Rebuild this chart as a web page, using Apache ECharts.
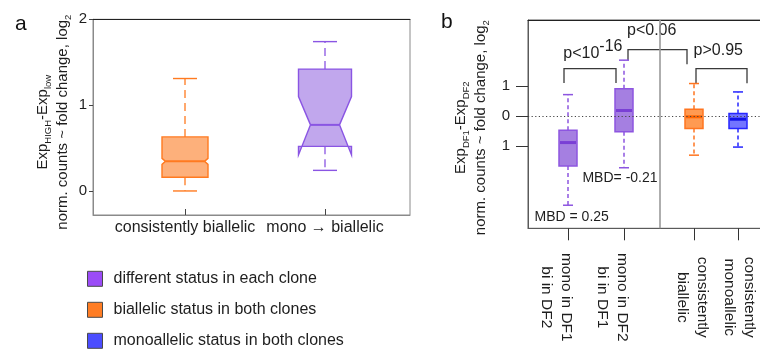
<!DOCTYPE html>
<html>
<head>
<meta charset="utf-8">
<script src="https://cdn.jsdelivr.net/npm/echarts@6/dist/echarts.min.js"></script>
<style>html,body{margin:0;padding:0;background:#fff}#chart{width:760px;height:350px}</style>
</head>
<body>
<div id="chart"></div>
<script>
// ---------------- DATA ----------------
// Panel a
const aCategories = ['consistently biallelic', 'mono \u2192 biallelic'];
const aGroups = ['biallelic', 'different'];
const aWhiskerLow = [0.00, 0.24];
const aQ1 = [0.16, 0.52];
const aMedian = [0.345, 0.77];
const aQ3 = [0.63, 1.42];
const aWhiskerHigh = [1.31, 1.74];
const aNotchLow = [0.31, 0.42];
const aNotchHigh = [0.38, 1.10];
const aTickValues = [0, 1, 2];
const aTickLabels = ['0', '1', '2'];

// Panel b
const bCategories = ['mono in DF1\nbi in DF2', 'mono in DF2\nbi in DF1', 'consistently\nbiallelic', 'consistently\nmonoallelic'];
const bGroups = ['different', 'different', 'biallelic', 'mono'];
const bWhiskerLow = [-2.98, -1.73, -1.31, -1.04];
const bQ1 = [-1.67, -0.53, -0.42, -0.42];
const bMedian = [-0.89, 0.18, -0.03, -0.11];
const bQ3 = [-0.48, 0.91, 0.22, 0.08];
const bWhiskerHigh = [0.71, 1.86, 1.08, 0.80];
const bTickValues = [-1, 0, 1];
const bTickLabels = ['1', '0', '1'];

// significance brackets (panel b)
const pLabels = ['p<10', 'p<0.06', 'p>0.95'];
const pExponents = ['-16', '', ''];
const bracketFrom = [3.6, 10.0, 16.8];
const bracketTo = [8.8, 15.9, 21.9];
const bracketTop = [1.58, 2.21, 1.58];
const bracketLegFromEnd = [1.10, 1.86, 1.09];
const bracketLegToEnd = [1.10, 1.72, 1.09];
const pLabelX = [7.13, 12.37, 19.03];
const pLabelY = [2.08, 2.83, 2.19];

// MBD annotations (panel b)
const mbdLabels = ['MBD = 0.25', 'MBD= -0.21'];
const mbdX = [4.37, 9.2];
const mbdY = [-3.39, -2.09];

const legendNames = ['different status in each clone', 'biallelic status in both clones', 'monoallelic status in both clones'];

// ---------------- LAYOUT / STYLE ----------------
const LAYOUT = {
  aPos: [9.2, 23.2],                 // box positions on panel a x-scale (0..31.7)
  bPos: [4.0, 9.6, 16.6, 21.0],      // box / tick positions on panel b x-scale (0..26)
  bLabelPos: [2.87, 8.42, 16.45, 21.17], // centres of the rotated label blocks
  bDivider: 13.2
};
const TXT = '#1e1e1e';
const FONT = '"Liberation Sans", Arial, Helvetica, sans-serif';
const STYLE = {
  different: { name: legendNames[0], legend: '#9b4cf7', strokeA: '#8a55e3', fillA: '#c1a7ed', halfA: 26.5, notchA: 12,
               strokeB: '#8d55e0', fillB: '#a57fe1', medB: '#7a3fd5' },
  biallelic: { name: legendNames[1], legend: '#ff7d24', strokeA: '#ff7a20', fillA: '#fdb07b', halfA: 23, notchA: 3.5,
               strokeB: '#ff7520', fillB: '#ff9a52', medB: '#ff6400' },
  mono:      { name: legendNames[2], legend: '#4b4dff', strokeB: '#2626ff', fillB: '#7375ff', medB: '#1212e8' }
};

function nearest(arr, v) {
  let bi = 0;
  for (let i = 1; i < arr.length; i++) if (Math.abs(arr[i] - v) < Math.abs(arr[bi] - v)) bi = i;
  return bi;
}

function boxData(pos, lo, q1, md, q3, hi, nl, nh, groups, group) {
  const out = [];
  groups.forEach((g, i) => {
    if (g === group) out.push([pos[i], lo[i], q1[i], md[i], q3[i], hi[i], nl ? nl[i] : md[i], nh ? nh[i] : md[i]]);
  });
  return out;
}

function notchedRenderer(group) {
  const st = STYLE[group];
  return function (params, api) {
    const x = api.value(0);
    const Y = v => api.coord([x, v])[1];
    const cx = api.coord([x, api.value(3)])[0];
    const yLo = Y(api.value(1)), yQ1 = Y(api.value(2)), yMd = Y(api.value(3)),
          yQ3 = Y(api.value(4)), yHi = Y(api.value(5)), yNl = Y(api.value(6)), yNh = Y(api.value(7));
    const L = cx - st.halfA, R = cx + st.halfA, d = st.notchA, cap = 12;
    const pts = [[L, yQ1], [L, yNl], [L + d, yMd], [L, yNh], [L, yQ3], [R, yQ3], [R, yNh], [R - d, yMd], [R, yNl], [R, yQ1]];
    const dash = { stroke: st.strokeA, lineWidth: 1.3, lineDash: [8, 5] };
    const solid = { stroke: st.strokeA, lineWidth: 1.4 };
    return { type: 'group', children: [
      { type: 'line', shape: { x1: cx, y1: yQ3, x2: cx, y2: yHi }, style: dash },
      { type: 'line', shape: { x1: cx - cap, y1: yHi, x2: cx + cap, y2: yHi }, style: solid },
      { type: 'line', shape: { x1: cx, y1: yQ1, x2: cx, y2: yLo }, style: dash },
      { type: 'line', shape: { x1: cx - cap, y1: yLo, x2: cx + cap, y2: yLo }, style: solid },
      { type: 'polygon', shape: { points: pts }, style: { fill: st.fillA, stroke: st.strokeA, lineWidth: 1.4 } },
      { type: 'line', shape: { x1: L + d, y1: yMd, x2: R - d, y2: yMd }, style: { stroke: st.strokeA, lineWidth: 2 } }
    ] };
  };
}

function boxRenderer(group) {
  const st = STYLE[group];
  return function (params, api) {
    const x = api.value(0);
    const Y = v => api.coord([x, v])[1];
    const cx = api.coord([x, api.value(3)])[0];
    const yLo = Y(api.value(1)), yQ1 = Y(api.value(2)), yMd = Y(api.value(3)), yQ3 = Y(api.value(4)), yHi = Y(api.value(5));
    const hw = 9, cap = 5;
    const dash = { stroke: st.strokeB, lineWidth: 1.5, lineDash: [4, 3] };
    const solid = { stroke: st.strokeB, lineWidth: 1.5 };
    return { type: 'group', children: [
      { type: 'line', shape: { x1: cx, y1: yQ3, x2: cx, y2: yHi }, style: dash },
      { type: 'line', shape: { x1: cx - cap, y1: yHi, x2: cx + cap, y2: yHi }, style: solid },
      { type: 'line', shape: { x1: cx, y1: yQ1, x2: cx, y2: yLo }, style: dash },
      { type: 'line', shape: { x1: cx - cap, y1: yLo, x2: cx + cap, y2: yLo }, style: solid },
      { type: 'rect', shape: { x: cx - hw, y: yQ3, width: 2 * hw, height: yQ1 - yQ3 }, style: { fill: st.fillB, stroke: st.strokeB, lineWidth: 1.5 } },
      { type: 'line', shape: { x1: cx - hw + 1, y1: yMd, x2: cx + hw - 1, y2: yMd }, style: { stroke: st.medB, lineWidth: 3 } }
    ] };
  };
}

const chart = echarts.init(document.getElementById('chart'), null, { renderer: 'canvas' });

const nameRich = {
  n: { fontSize: 15, lineHeight: 20, color: TXT, fontFamily: FONT },
  s: { fontSize: 9.5, lineHeight: 10, verticalAlign: 'bottom', color: TXT, fontFamily: FONT }
};

const option = {
  animation: false,
  backgroundColor: '#ffffff',
  textStyle: { fontFamily: FONT, color: TXT },
  title: [
    { text: 'a', left: 10, top: 9, textStyle: { fontSize: 21, fontWeight: 'normal', color: '#111', fontFamily: FONT } },
    { text: 'b', left: 436, top: 7, textStyle: { fontSize: 21, fontWeight: 'normal', color: '#111', fontFamily: FONT } }
  ],
  legend: {
    orient: 'vertical', left: 87, top: 270.8, height: 120, padding: 0, icon: 'rect', itemWidth: 15, itemHeight: 15, itemGap: 15,
    selectedMode: false,
    itemStyle: { borderColor: '#4a4a4a', borderWidth: 1 },
    textStyle: { fontSize: 16, color: TXT, fontFamily: FONT, padding: [0, 0, 0, 6], lineHeight: 15 },
    data: [
      { name: legendNames[0], itemStyle: { color: STYLE.different.legend } },
      { name: legendNames[1], itemStyle: { color: STYLE.biallelic.legend } },
      { name: legendNames[2], itemStyle: { color: STYLE.mono.legend } }
    ]
  },
  grid: [
    { left: 93, top: 19.3, width: 317, height: 195.7, show: true, borderColor: '#8a8a8a', borderWidth: 1, containLabel: false, outerBoundsMode: 'none' },
    { left: 528, top: 20, width: 260, height: 208.3, show: true, borderColor: '#5a5a5a', borderWidth: 1, containLabel: false, outerBoundsMode: 'none' }
  ],
  xAxis: [
    { gridIndex: 0, type: 'value', min: 0, max: 31.7, position: 'bottom',
      axisLine: { show: true, onZero: false, lineStyle: { color: '#8a8a8a' } },
      axisTick: { show: true, inside: true, length: 6, customValues: LAYOUT.aPos, lineStyle: { color: '#444' } },
      axisLabel: { customValues: LAYOUT.aPos, formatter: v => aCategories[nearest(LAYOUT.aPos, v)],
                   showMinLabel: true, showMaxLabel: true,
                   fontSize: 16, color: TXT, fontFamily: FONT, margin: 5 },
      splitLine: { show: false } },
    { gridIndex: 0, type: 'value', min: 0, max: 31.7, position: 'top',
      axisLine: { show: true, onZero: false, lineStyle: { color: '#222' } },
      axisTick: { show: false }, axisLabel: { show: false }, splitLine: { show: false } },
    { gridIndex: 1, type: 'value', min: 0, max: 26, position: 'bottom',
      axisLine: { show: true, onZero: false, lineStyle: { color: '#5a5a5a' } },
      axisTick: { show: true, inside: false, length: 12, customValues: LAYOUT.bPos, lineStyle: { color: '#333' } },
      axisLabel: { customValues: LAYOUT.bLabelPos,
                   formatter: v => bCategories[nearest(LAYOUT.bLabelPos, v)],
                   showMinLabel: true, showMaxLabel: true, hideOverlap: false,
                   rotate: -90, align: 'center', verticalAlign: 'middle', lineHeight: 20,
                   fontSize: 15.5, color: TXT, fontFamily: FONT, margin: 69 },
      splitLine: { show: false } },
    { gridIndex: 1, type: 'value', min: 0, max: 26, position: 'top',
      axisLine: { show: true, onZero: false, lineStyle: { color: '#222' } },
      axisTick: { show: false }, axisLabel: { show: false }, splitLine: { show: false } }
  ],
  yAxis: [
    { gridIndex: 0, type: 'value', min: -0.28, max: 2,
      axisLine: { show: true, onZero: false, lineStyle: { color: '#8a8a8a' } },
      axisTick: { show: true, length: 4, customValues: aTickValues, lineStyle: { color: '#444' } },
      axisLabel: { customValues: aTickValues, formatter: v => aTickLabels[nearest(aTickValues, v)],
                   showMinLabel: true, showMaxLabel: true,
                   fontSize: 15, color: TXT, fontFamily: FONT, margin: 6 },
      splitLine: { show: false },
      name: '{n|Exp}{s|HIGH}{n|-Exp}{s|low}\n{n|norm. counts ~ fold change, log}{s|2}',
      nameLocation: 'middle', nameRotate: 90, nameGap: 20, nameMoveOverlap: false,
      nameTextStyle: { rich: nameRich, align: 'center', padding: [0, 10, 0, 0] } },
    { gridIndex: 1, type: 'value', min: -3.75, max: 3.2,
      axisLine: { show: true, onZero: false, lineStyle: { color: '#5a5a5a' } },
      axisTick: { show: true, length: 12, customValues: bTickValues, lineStyle: { color: '#333' } },
      axisLabel: { customValues: bTickValues, formatter: v => bTickLabels[nearest(bTickValues, v)],
                   showMinLabel: true, showMaxLabel: true,
                   fontSize: 15, color: TXT, fontFamily: FONT, margin: 18 },
      splitLine: { show: false },
      name: '{n|Exp}{s|DF1}{n|-Exp}{s|DF2}\n{n|norm. counts ~ fold change, log}{s|2}',
      nameLocation: 'middle', nameRotate: 90, nameGap: 37, nameMoveOverlap: false,
      nameTextStyle: { rich: nameRich, align: 'center', padding: [0, 7, 0, 0] } }
  ],
  series: [
    // panel a boxes
    { type: 'custom', name: STYLE.biallelic.name, xAxisIndex: 0, yAxisIndex: 0, itemStyle: { color: STYLE.biallelic.legend },
      renderItem: notchedRenderer('biallelic'),
      data: boxData(LAYOUT.aPos, aWhiskerLow, aQ1, aMedian, aQ3, aWhiskerHigh, aNotchLow, aNotchHigh, aGroups, 'biallelic'), z: 3 },
    { type: 'custom', name: STYLE.different.name, xAxisIndex: 0, yAxisIndex: 0, itemStyle: { color: STYLE.different.legend },
      renderItem: notchedRenderer('different'),
      data: boxData(LAYOUT.aPos, aWhiskerLow, aQ1, aMedian, aQ3, aWhiskerHigh, aNotchLow, aNotchHigh, aGroups, 'different'), z: 3 },
    // panel b: brackets + reference lines
    { type: 'custom', name: 'brackets', xAxisIndex: 2, yAxisIndex: 1, z: 2, silent: true,
      renderItem: function (params, api) {
        const p1 = api.coord([api.value(0), api.value(3)]);
        const p2 = api.coord([api.value(0), api.value(2)]);
        const p3 = api.coord([api.value(1), api.value(2)]);
        const p4 = api.coord([api.value(1), api.value(4)]);
        return { type: 'polyline', shape: { points: [p1, p2, p3, p4] }, style: { stroke: '#3a3a3a', lineWidth: 1.3, fill: null } };
      },
      data: bracketFrom.map((f, i) => [f, bracketTo[i], bracketTop[i], bracketLegFromEnd[i], bracketLegToEnd[i]]),
      markLine: {
        silent: true, symbol: ['none', 'none'], label: { show: false }, animation: false,
        data: [
          { yAxis: 0, lineStyle: { type: [1.2, 2.4], color: '#444', width: 1 } },
          { xAxis: LAYOUT.bDivider, lineStyle: { type: 'solid', color: '#9a9a9a', width: 1.6 } }
        ]
      } },
    // panel b boxes
    { type: 'custom', name: STYLE.different.name, xAxisIndex: 2, yAxisIndex: 1, z: 3, itemStyle: { color: STYLE.different.legend },
      renderItem: boxRenderer('different'),
      data: boxData(LAYOUT.bPos, bWhiskerLow, bQ1, bMedian, bQ3, bWhiskerHigh, null, null, bGroups, 'different') },
    { type: 'custom', name: STYLE.biallelic.name, xAxisIndex: 2, yAxisIndex: 1, z: 3, itemStyle: { color: STYLE.biallelic.legend },
      renderItem: boxRenderer('biallelic'),
      data: boxData(LAYOUT.bPos, bWhiskerLow, bQ1, bMedian, bQ3, bWhiskerHigh, null, null, bGroups, 'biallelic') },
    { type: 'custom', name: STYLE.mono.name, xAxisIndex: 2, yAxisIndex: 1, z: 3, itemStyle: { color: STYLE.mono.legend },
      renderItem: boxRenderer('mono'),
      data: boxData(LAYOUT.bPos, bWhiskerLow, bQ1, bMedian, bQ3, bWhiskerHigh, null, null, bGroups, 'mono') },
    // p-value labels
    { type: 'custom', name: 'pvalues', xAxisIndex: 2, yAxisIndex: 1, z: 4, silent: true,
      renderItem: function (params, api) {
        const i = params.dataIndex;
        const p = api.coord([api.value(0), api.value(1)]);
        const base = { fill: TXT, fontSize: 16, fontFamily: FONT, verticalAlign: 'middle' };
        if (pExponents[i]) {
          return { type: 'group', children: [
            { type: 'text', style: Object.assign({}, base, { text: pLabels[i], x: p[0], y: p[1], align: 'right' }) },
            { type: 'text', style: Object.assign({}, base, { text: pExponents[i], x: p[0], y: p[1] - 7, align: 'left' }) }
          ] };
        }
        return { type: 'text', style: Object.assign({}, base, { text: pLabels[i], x: p[0], y: p[1], align: 'center' }) };
      },
      data: pLabelX.map((x, i) => [x, pLabelY[i]]) },
    // MBD labels
    { type: 'custom', name: 'mbd', xAxisIndex: 2, yAxisIndex: 1, z: 4, silent: true,
      renderItem: function (params, api) {
        const p = api.coord([api.value(0), api.value(1)]);
        return { type: 'text', style: { text: mbdLabels[params.dataIndex], x: p[0], y: p[1], align: 'center', verticalAlign: 'middle',
                                        fill: TXT, fontSize: 14, fontFamily: FONT } };
      },
      data: mbdX.map((x, i) => [x, mbdY[i]]) }
  ]
};
chart.setOption(option);
</script>
</body>
</html>
